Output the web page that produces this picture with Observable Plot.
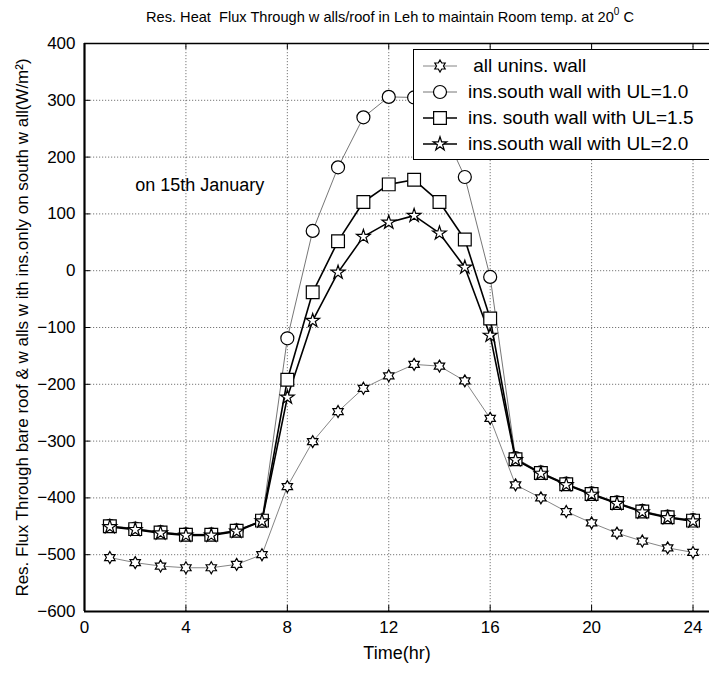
<!DOCTYPE html>
<html><head><meta charset="utf-8">
<script src="https://cdn.jsdelivr.net/npm/d3@7"></script>
<script src="https://cdn.jsdelivr.net/npm/@observablehq/plot@0.6"></script>
<style>
body{margin:0;background:#fff;font-family:"Liberation Sans",Arial,sans-serif;}
#wrap{position:relative;width:709px;height:677px;overflow:hidden;background:#fff;}
#title{height:30px;box-sizing:border-box;padding-top:9px;padding-left:71px;text-align:center;font-size:14.6px;line-height:16px;color:#000;white-space:nowrap;}
#title sup{font-size:10px;vertical-align:7px;line-height:0;}
#legend{position:absolute;left:413px;top:49px;width:300px;height:111px;border:1.5px solid #000;background:#fff;box-sizing:border-box;}
.lrow{position:absolute;left:0;height:26px;display:flex;align-items:center;font-size:19px;white-space:nowrap;}
.lrow svg{display:block;margin-left:8px;margin-right:10px;}
</style></head>
<body><div id="wrap"><div id="title">Res. Heat&nbsp; Flux Through w alls/roof in Leh to maintain Room temp. at 20<sup>0</sup> C</div><div id="legend"></div></div>
<script>
// ---- data ----
const hours = [1,2,3,4,5,6,7,8,9,10,11,12,13,14,15,16,17,18,19,20,21,22,23,24];
const seriesNames = ["all unins. wall","ins.south wall with UL=1.0","ins. south wall with UL=1.5","ins.south wall with UL=2.0"];
const uninsWall = [-505,-514,-520,-523,-523,-517,-500,-380,-301,-248,-207,-185,-165,-168,-194,-260,-377,-400,-424,-444,-462,-476,-488,-496];
const insUL10 = [-449,-454,-460,-464,-464,-457,-440,-119,70,182,270,306,305,262,165,-11,-330,-355,-375,-392,-408,-423,-433,-439];
const insUL15 = [-450,-455,-461,-465,-465,-458,-440,-192,-38,52,121,152,160,121,55,-84,-332,-356,-376,-393,-409,-424,-434,-440];
const insUL20 = [-451,-456,-462,-466,-466,-459,-441,-223,-88,-3,60,85,97,66,6,-114,-333,-357,-377,-394,-410,-425,-435,-441];
const xTicks = [0,4,8,12,16,20,24];
const yTicks = [-600,-500,-400,-300,-200,-100,0,100,200,300,400];
const xDomain = [0,24.65];
const yDomain = [-600,400];
const titleX = "Time(hr)";
const titleY = "Res. Flux Through bare roof & w alls w ith ins.only on south w all(W/m\u00B2)";
const note = {x:2, y:150, text:"on 15th January"};

// ---- custom hexagram symbol ----
const hexagram = {
  draw(ctx, size){
    const R = Math.sqrt(size/Math.PI), r = R/Math.sqrt(3);
    for(let k=0;k<12;k++){
      const a = -Math.PI/2 + k*Math.PI/6, rr = k%2===0 ? R : r;
      const px = rr*Math.cos(a), py = rr*Math.sin(a);
      if(k===0) ctx.moveTo(px,py); else ctx.lineTo(px,py);
    }
    ctx.closePath();
  }
};

const styles = [
  {symbol: hexagram, r: 6, stroke:"#777", sw:0.9},
  {symbol: "circle", r: 6.5, stroke:"#666", sw:0.9},
  {symbol: "square", r: 7.2, stroke:"#000", sw:1.6},
  {symbol: "star", r: 4.3, stroke:"#000", sw:1.6}
];
const allValues = [uninsWall, insUL10, insUL15, insUL20];
const series = allValues.map((vals,i)=>hours.map((h,j)=>({x:h, y:vals[j], s:seriesNames[i]})));

const W=709, H=647, mT=13, mB=66, mL=84, mR=0;
const plotW = W-mL-mR, plotH = H-mT-mB;
const gridStyle = {stroke:"#555", strokeOpacity:1, strokeWidth:0.8, strokeDasharray:"1.2,1.8"};

const marks = [
  Plot.gridX(xTicks, gridStyle),
  Plot.gridY(yTicks, gridStyle),
  Plot.axisX({ticks:xTicks, tickSize:0, tickPadding:9, fontSize:17, label:null}),
  Plot.axisY({ticks:yTicks, tickSize:0, tickPadding:9, fontSize:17, label:null}),
  Plot.tickX(xTicks, {x:d=>d, insetBottom: plotH-6, stroke:"#000", strokeWidth:1}),
  Plot.tickX(xTicks, {x:d=>d, insetTop: plotH-6, stroke:"#000", strokeWidth:1}),
  Plot.tickY(yTicks, {y:d=>d, insetRight: plotW-6, stroke:"#000", strokeWidth:1}),
  Plot.ruleY([yDomain[0]], {stroke:"#000", strokeWidth:2.2}),
  Plot.ruleY([yDomain[1]], {stroke:"#000", strokeWidth:1.6}),
  Plot.ruleX([xDomain[0]], {stroke:"#000", strokeWidth:2.2}),
];
series.forEach((data,i)=>{
  const st = styles[i];
  marks.push(Plot.line(data, {x:"x", y:"y", stroke:st.stroke, strokeWidth:st.sw}));
});
series.forEach((data,i)=>{
  const st = styles[i];
  marks.push(Plot.dot(data, {x:"x", y:"y", symbol:st.symbol, r:st.r, fill:"#fff", stroke:"#000", strokeWidth:1.2}));
});
marks.push(Plot.text([note], {x:"x", y:"y", text:"text", textAnchor:"start", fontSize:18, fill:"#000"}));
marks.push(Plot.text([titleX], {text:d=>d, frameAnchor:"bottom", dy:47, textAnchor:"middle", fontSize:18, fill:"#000"}));
marks.push(Plot.text([titleY], {text:d=>d, frameAnchor:"left", dx:-62, rotate:-90, textAnchor:"middle", fontSize:17, fill:"#000"}));

const chart = Plot.plot({
  width:W, height:H, marginTop:mT, marginBottom:mB, marginLeft:mL, marginRight:mR,
  x:{domain:xDomain}, y:{domain:yDomain},
  style:{fontFamily:"Liberation Sans, Arial, sans-serif", fontSize:"17px", color:"#000", background:"#fff"},
  marks
});
chart.style.display = "block";
document.getElementById("wrap").insertBefore(chart, document.getElementById("legend"));

// ---- legend ----
const legend = document.getElementById("legend");
const rowTops = [3,29,55,81];
seriesNames.forEach((name,i)=>{
  const st = styles[i];
  const row = document.createElement("div");
  row.className = "lrow"; row.style.top = rowTops[i]+"px";
  const svg = d3.create("svg").attr("width",36).attr("height",26);
  svg.append("line").attr("x1",1).attr("x2",35).attr("y1",13).attr("y2",13).attr("stroke",st.stroke).attr("stroke-width",st.sw);
  const sym = typeof st.symbol === "string" ? {circle:d3.symbolCircle, square:d3.symbolSquare, star:d3.symbolStar}[st.symbol] : st.symbol;
  svg.append("path").attr("d", d3.symbol(sym, Math.PI*st.r*st.r)()).attr("transform","translate(18,13)")
     .attr("fill","#fff").attr("stroke","#000").attr("stroke-width",1.2);
  row.appendChild(svg.node());
  const t = document.createElement("span");
  t.textContent = (i===0 ? "\u00A0" : "") + name;
  row.appendChild(t);
  legend.appendChild(row);
});
</script></body></html>
